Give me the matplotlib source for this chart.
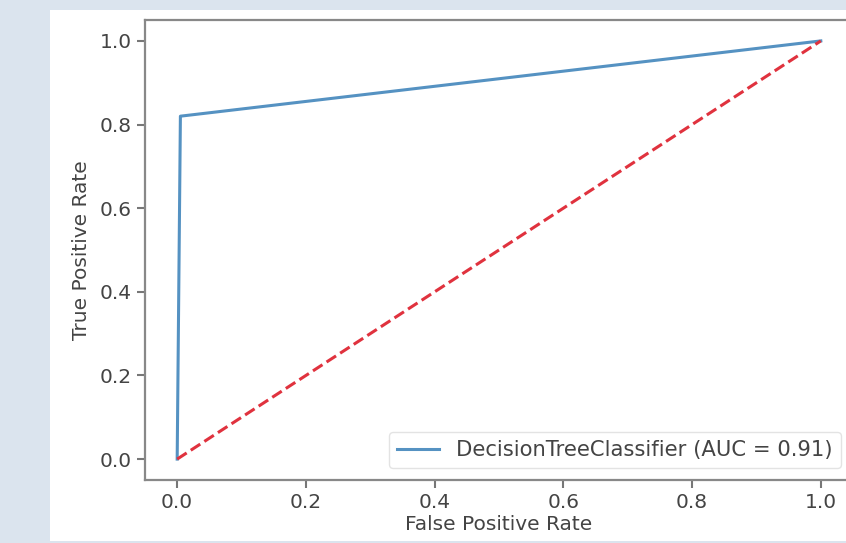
import matplotlib.pyplot as plt
from matplotlib.patches import Rectangle

# ROC curve points
fpr = [0.0, 0.005, 1.0]
tpr = [0.0, 0.82, 1.0]
chance = [0.0, 1.0]
auc_label = "DecisionTreeClassifier (AUC = 0.91)"

W, H = 846, 543
fig = plt.figure(figsize=(W / 100, H / 100), dpi=100, facecolor="#dbe4ee")

# white panel of the screenshot, behind the axes
fig.add_artist(Rectangle((50 / W, 2 / H), 1 - 50 / W, (533 - 2) / H,
                         transform=fig.transFigure, facecolor="white",
                         edgecolor="none", zorder=-10))

ax = fig.add_axes([145 / W, 1 - 480 / H, (853 - 145) / W, (480 - 20) / H])
ax.set_facecolor("white")

txt = "#444444"
fs = 14.5
ax.plot(fpr, tpr, color="#5592c2", lw=2.2, label=auc_label)
ax.plot(chance, chance, "--", color="#e0323e", lw=2.2)

ax.set_xlim(-0.05, 1.05)
ax.set_ylim(-0.05, 1.05)
ticks = [0.0, 0.2, 0.4, 0.6, 0.8, 1.0]
ax.set_xticks(ticks)
ax.set_yticks(ticks)
ax.tick_params(labelsize=fs, colors="#777777", labelcolor=txt, length=6, width=1.5)
ax.set_xlabel("False Positive Rate", fontsize=fs, color=txt, labelpad=2)
ax.set_ylabel("True Positive Rate", fontsize=fs, color=txt, labelpad=6)
for s in ax.spines.values():
    s.set_color("#888888")
    s.set_linewidth(1.6)

leg = ax.legend(loc="lower right", fontsize=15.2, labelcolor=txt, handlelength=2,
                borderaxespad=0.55, fancybox=True)
leg.get_frame().set_edgecolor("#dddddd")

fig.savefig("out.png", dpi=100, facecolor=fig.get_facecolor())
